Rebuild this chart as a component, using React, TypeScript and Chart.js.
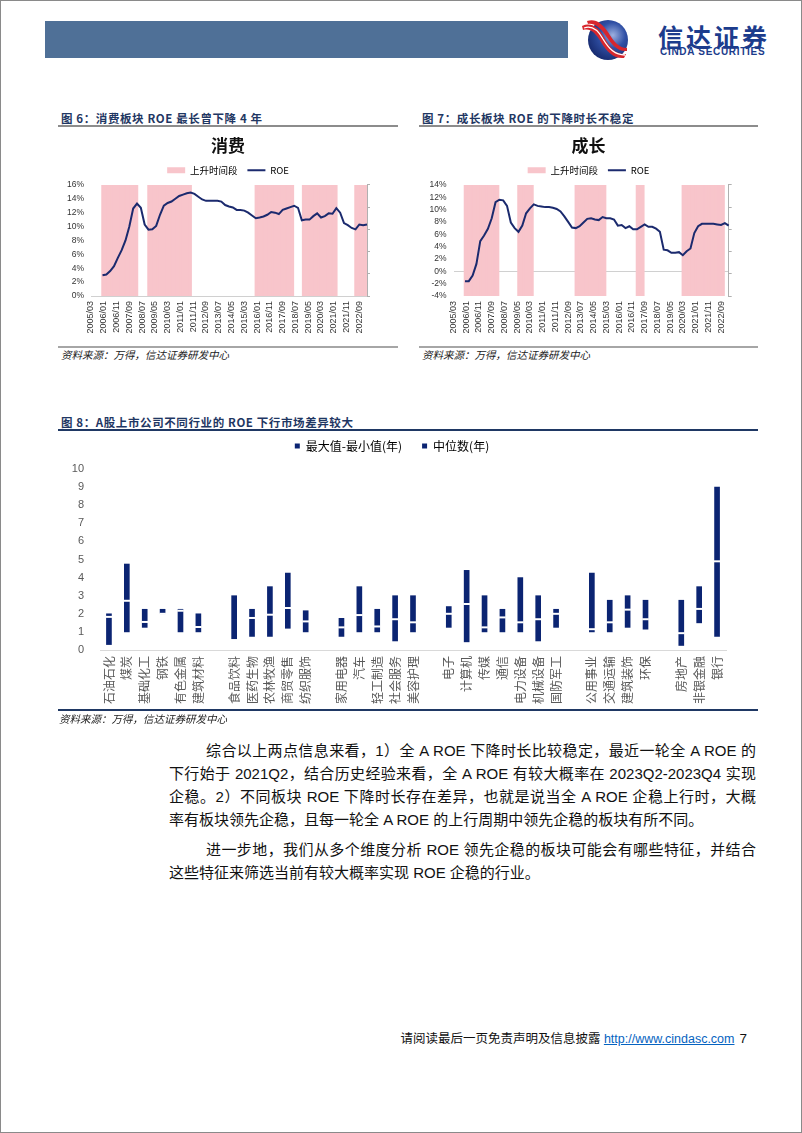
import React, { useEffect, useRef } from "react";
import { Chart, registerables } from "chart.js";
Chart.register(...registerables);

const CJK = '"Noto Sans CJK SC", sans-serif';
const SANS = '"Liberation Sans", Arial, "Noto Sans CJK SC", sans-serif';

const NAVY_LINE = "#1B2A6E";
const PINK = "#F8C5CB";
const BAR_NAVY = "#0B2472";

// monthly category axis 2005/03 ... 2023/03, labelled every 10 months
const X_TICKS = ["2005/03", "2006/01", "2006/11", "2007/09", "2008/07", "2009/05", "2010/03", "2011/01", "2011/11", "2012/09", "2013/07", "2014/05", "2015/03", "2016/01", "2016/11", "2017/09", "2018/07", "2019/05", "2020/03", "2021/01", "2021/11", "2022/09"];
const MONTH_COUNT = 217;
const FIRST_QUARTER = "2005/12";

// 消费 ROE (%), quarterly from 2005/12
const XF_ROE = [3.0, 3.1, 3.6, 4.3, 5.5, 6.6, 8.0, 10.0, 12.6, 13.3, 12.7, 10.3, 9.55, 9.6, 10.1, 11.7, 13.0, 13.4, 13.6, 14.0, 14.4, 14.6, 14.8, 14.9, 14.7, 14.3, 13.9, 13.7, 13.7, 13.7, 13.7, 13.6, 13.1, 12.9, 12.75, 12.4, 12.4, 12.3, 12.0, 11.6, 11.2, 11.3, 11.45, 11.7, 12.1, 12.0, 11.8, 12.4, 12.6, 12.8, 13.0, 12.7, 10.9, 11.0, 11.0, 11.5, 11.9, 11.3, 11.5, 11.9, 11.85, 12.65, 12.0, 10.5, 10.2, 9.8, 9.6, 10.3, 10.2, 10.3];
const XF_RISE = [["2005/12", "2008/03"], ["2008/12", "2011/09"], ["2015/12", "2018/05"], ["2019/01", "2021/03"], ["2022/06", "2023/03"]];

// 成长 ROE (%), quarterly from 2005/12
const CZ_ROE = [-1.6, -1.6, -0.7, 1.2, 4.9, 5.8, 6.9, 8.6, 11.2, 11.6, 11.5, 10.6, 7.9, 7.0, 6.4, 7.4, 9.4, 10.2, 10.85, 10.6, 10.5, 10.4, 10.4, 10.3, 10.1, 9.7, 8.9, 8.0, 7.1, 7.0, 7.3, 7.9, 8.5, 8.6, 8.4, 8.3, 8.8, 8.6, 8.6, 8.4, 7.4, 7.5, 7.0, 7.3, 6.8, 6.8, 7.2, 7.6, 7.2, 7.2, 6.9, 6.4, 3.5, 3.4, 3.0, 3.0, 3.1, 2.6, 3.25, 3.7, 6.2, 7.3, 7.7, 7.7, 7.7, 7.7, 7.6, 7.5, 7.8, 7.4];
const CZ_RISE = [["2005/12", "2008/02"], ["2009/06", "2010/05"], ["2013/03", "2015/02"], ["2017/03", "2017/08"], ["2020/03", "2022/11"]];

// 图8
const INDUSTRIES = ["石油石化", "煤炭", "基础化工", "钢铁", "有色金属", "建筑材料", "", "食品饮料", "医药生物", "农林牧渔", "商贸零售", "纺织服饰", "", "家用电器", "汽车", "轻工制造", "社会服务", "美容护理", "", "电子", "计算机", "传媒", "通信", "电力设备", "机械设备", "国防军工", "", "公用事业", "交通运输", "建筑装饰", "环保", "", "房地产", "非银金融", "银行"];
const RANGE_MAX = [2.0, 4.75, 2.25, 2.25, 2.25, 2.0, null, 3.0, 2.25, 3.5, 4.25, 2.17, null, 1.75, 3.5, 2.25, 3.0, 3.0, null, 2.4, 4.4, 3.0, 2.25, 4.0, 3.0, 2.25, null, 4.25, 2.75, 3.0, 2.75, null, 2.75, 3.5, 9.0];
const RANGE_MIN = [0.3, 1.0, 1.25, 2.0, 1.0, 1.0, null, 0.55, 0.75, 0.75, 1.2, 1.0, null, 0.75, 1.0, 1.0, 0.5, 1.0, null, 1.25, 0.45, 1.0, 1.0, 1.0, 0.5, 1.25, null, 1.0, 1.0, 1.25, 1.15, null, 0.25, 1.5, 0.75];
const MEDIAN = [1.83, 2.72, 1.55, 2.0, 2.17, 1.27, null, 0.55, 1.77, 1.95, 2.32, 1.58, null, 1.25, 1.93, 1.3, 1.7, 1.53, null, 2.0, 2.54, 1.25, 1.8, 1.53, 1.7, 2.0, null, 1.15, 1.53, 2.23, 1.7, null, 0.93, 2.27, 4.9];
const Y8_TICKS = { min: 0, max: 10, step: 1 };

function monthIndex(label: string) {
  const [y, m] = label.split("/").map(Number);
  return (y - 2005) * 12 + (m - 3);
}

function legendExtra(extra: number) {
  return {
    id: "legendExtra",
    afterInit(chart: any) {
      const l = chart.legend;
      if (!l || l.__patched) return;
      const orig = l.fit;
      l.fit = function () {
        orig.call(this);
        this.height += extra;
      };
      l.__patched = true;
    },
  };
}

function roeConfig(title: string, values: number[], bands: string[][], yMin: number, yMax: number, leftW: number, rightW: number): any {
  const labels = Array.from({ length: MONTH_COUNT }, (_, i) => (i % 10 === 0 ? X_TICKS[i / 10] : ""));
  const line: (number | null)[] = Array(MONTH_COUNT).fill(null);
  const q0 = monthIndex(FIRST_QUARTER);
  values.forEach((v, k) => {
    line[q0 + 3 * k] = v;
  });
  const band: (number | null)[] = Array(MONTH_COUNT).fill(null);
  bands.forEach(([a, b]) => {
    for (let i = monthIndex(a); i <= monthIndex(b); i++) band[i] = 1;
  });
  return {
    type: "bar",
    data: {
      labels,
      datasets: [
        { type: "line", label: "ROE", data: line, yAxisID: "y", borderColor: NAVY_LINE, borderWidth: 2, pointRadius: 0, spanGaps: true, order: 0, tension: 0 },
        { type: "bar", label: "上升时间段", data: band, yAxisID: "y2", backgroundColor: PINK, borderWidth: 0, inflateAmount: 0.6, barPercentage: 1, categoryPercentage: 1, order: 1 },
      ],
    },
    options: {
      animation: false,
      responsive: false,
      layout: { padding: 0 },
      plugins: {
        title: { display: true, text: title, color: "#111", font: { family: CJK, size: 17, weight: "bold" }, padding: { top: 6, bottom: 0 } },
        legend: {
          labels: {
            usePointStyle: true,
            pointStyleWidth: 18,
            boxHeight: 6,
            padding: 10,
            color: "#404040",
            font: { family: CJK, size: 9.5 },
            generateLabels: () => [
              { text: "上升时间段", fillStyle: PINK, strokeStyle: PINK, lineWidth: 0, pointStyle: "rect", hidden: false },
              { text: "ROE", fillStyle: NAVY_LINE, strokeStyle: NAVY_LINE, lineWidth: 2, pointStyle: "line", hidden: false },
            ],
          },
        },
        tooltip: { enabled: false },
      },
      scales: {
        x: {
          type: "category",
          offset: false,
          grid: { display: false, drawTicks: false },
          border: { display: false },
          ticks: { autoSkip: false, minRotation: 90, maxRotation: 90, padding: 5, color: "#333", font: { family: SANS, size: 9 } },
          afterFit: (s: any) => {
            s.height = 40;
          },
        },
        y: {
          position: "left",
          min: yMin,
          max: yMax,
          ticks: { autoSkip: false, stepSize: 2, padding: 7, color: "#333", font: { family: SANS, size: 8.5 }, callback: (v: any) => v + "%" },
          grid: { drawTicks: false, color: (c: any) => (c.tick && c.tick.value === 0 ? "#D0D0D0" : "rgba(0,0,0,0)") },
          border: { display: false },
          afterFit: (s: any) => {
            s.width = leftW;
          },
        },
        y2: {
          position: "right",
          min: 0,
          max: 1,
          ticks: { display: false, stepSize: 0.2, autoSkip: false },
          grid: { drawOnChartArea: false, drawTicks: true, tickLength: 3, color: "#B0B0B0" },
          border: { display: true, color: "#B0B0B0" },
          afterFit: (s: any) => {
            s.width = rightW;
          },
        },
      },
    },
  };
}

function fig8Config(): any {
  return {
    type: "bar",
    data: {
      labels: INDUSTRIES,
      datasets: [
        {
          label: "最大值-最小值(年)",
          data: INDUSTRIES.map((_, i) => (RANGE_MAX[i] == null ? null : [RANGE_MIN[i], RANGE_MAX[i]])),
          backgroundColor: BAR_NAVY,
          barThickness: 5,
          order: 1,
        },
        {
          type: "line",
          label: "中位数(年)",
          data: MEDIAN,
          showLine: false,
          pointStyle: "line",
          pointRadius: 3.3,
          pointBorderColor: "#fff",
          pointBackgroundColor: "#fff",
          pointBorderWidth: 2,
          order: 0,
        },
      ],
    },
    options: {
      animation: false,
      responsive: false,
      layout: { padding: { right: 32 } },
      plugins: {
        legend: {
          labels: {
            usePointStyle: true,
            boxWidth: 5,
            boxHeight: 5,
            padding: 20,
            color: "#595959",
            font: { family: CJK, size: 12 },
            generateLabels: () => [
              { text: "最大值-最小值(年)", fillStyle: BAR_NAVY, strokeStyle: BAR_NAVY, lineWidth: 0, pointStyle: "rect", hidden: false },
              { text: "中位数(年)", fillStyle: BAR_NAVY, strokeStyle: BAR_NAVY, lineWidth: 0, pointStyle: "rect", hidden: false },
            ],
          },
        },
        tooltip: { enabled: false },
      },
      scales: {
        x: {
          grid: { display: false, drawTicks: false },
          border: { display: true, color: "#D9D9D9" },
          ticks: { autoSkip: false, minRotation: 90, maxRotation: 90, padding: 6, color: "#595959", font: { family: CJK, size: 12 } },
          afterFit: (s: any) => {
            s.height = 60;
          },
        },
        y: {
          min: Y8_TICKS.min,
          max: Y8_TICKS.max,
          ticks: { autoSkip: false, stepSize: Y8_TICKS.step, padding: 16, color: "#595959", font: { family: SANS, size: 11 } },
          grid: { display: false, drawTicks: false },
          border: { display: false },
          afterFit: (s: any) => {
            s.width = 42;
          },
        },
      },
    },
    plugins: [legendExtra(7)],
  };
}

function ChartBox({ make, left, top, width, height }: any) {
  const ref = useRef<HTMLCanvasElement>(null);
  useEffect(() => {
    const c = new Chart(ref.current as HTMLCanvasElement, make());
    return () => c.destroy();
  }, []);
  return <canvas ref={ref} width={width} height={height} style={{ position: "absolute", left, top, width, height }} />;
}

const abs = (s: any) => ({ position: "absolute" as const, ...s });

const FigTitle = ({ x, y, w, text, lineColor }: any) => (
  <>
    <div style={abs({ left: x + 3, top: y - 8, fontFamily: CJK, fontWeight: 700, fontSize: 11.5, letterSpacing: 0.6, color: "#1F3763", whiteSpace: "nowrap", lineHeight: "16px" })}>{text}</div>
    <div style={abs({ left: x, top: y + 7, width: w, height: 2, background: lineColor })} />
  </>
);

const Source = ({ x, y }: any) => (
  <div style={abs({ left: x, top: y - 7, fontFamily: CJK, fontStyle: "italic", fontSize: 10.5, color: "#222", whiteSpace: "nowrap", lineHeight: "14px" })}>资料来源：万得，信达证券研发中心</div>
);

const P_LINES = [
  { x: 205, y: 750, t: "综合以上两点信息来看，1）全 A ROE 下降时长比较稳定，最近一轮全 A ROE 的", j: true },
  { x: 168, y: 773, t: "下行始于 2021Q2，结合历史经验来看，全 A ROE 有较大概率在 2023Q2-2023Q4 实现", j: true },
  { x: 168, y: 796, t: "企稳。2）不同板块 ROE 下降时长存在差异，也就是说当全 A ROE 企稳上行时，大概", j: true },
  { x: 168, y: 819, t: "率有板块领先企稳，且每一轮全 A ROE 的上行周期中领先企稳的板块有所不同。", j: false },
  { x: 205, y: 849, t: "进一步地，我们从多个维度分析 ROE 领先企稳的板块可能会有哪些特征，并结合", j: true },
  { x: 168, y: 872, t: "这些特征来筛选当前有较大概率实现 ROE 企稳的行业。", j: false },
];

export default function App() {
  return (
    <div lang="zh-CN" style={{ position: "absolute", left: 0, top: 0, width: 802, height: 1133, background: "#fff", overflow: "hidden", boxSizing: "border-box", border: "1px solid #8a8a8a" }}>
      {/* header */}
      <div style={abs({ left: 44, top: 20, width: 523, height: 37, background: "#4F7097" })} />
      <svg width="48" height="46" viewBox="0 0 48 46" style={abs({ left: 580, top: 16 })}>
        <defs>
          <radialGradient id="lg" cx="62%" cy="38%" r="70%">
            <stop offset="0" stopColor="#9DB0E0" />
            <stop offset="0.45" stopColor="#3050A5" />
            <stop offset="1" stopColor="#15286B" />
          </radialGradient>
        </defs>
        <circle cx="27" cy="23" r="20" fill="url(#lg)" />
        <path d="M1 9 C 10 5, 17 10, 23 20 C 29 31, 35 38, 45 37 L 43 41 C 33 42, 26 35, 20 25 C 14 15, 9 11, 2 13 Z" fill="#D7262D" />
        <path d="M6 4 C 14 1, 21 6, 27 15 C 33 25, 38 31, 46 31 L 46 34 C 37 35, 31 28, 25 19 C 19 10, 13 6, 7 7 Z" fill="#D7262D" />
        <path d="M3 11 C 11 8, 17 13, 22 22 C 28 32, 34 38, 44 38" stroke="#fff" strokeWidth="1.3" fill="none" />
      </svg>
      <div style={abs({ left: 657, top: 20, fontFamily: CJK, fontWeight: 700, fontSize: 25, letterSpacing: 3, color: "#1C3C8C", lineHeight: "30px", whiteSpace: "nowrap" })}>信达证券</div>
      <div style={abs({ left: 659, top: 45, fontFamily: SANS, fontWeight: 700, fontSize: 10, letterSpacing: 0.7, color: "#1C3C8C", lineHeight: "12px", whiteSpace: "nowrap" })}>CINDA SECURITIES</div>

      {/* fig 6 & 7 */}
      <FigTitle x={57} y={117} w={340} text="图 6：消费板块 ROE 最长曾下降 4 年" lineColor="#8C8C8C" />
      <FigTitle x={418} y={117} w={339} text="图 7：成长板块 ROE 的下降时长不稳定" lineColor="#8C8C8C" />
      <ChartBox make={() => roeConfig("消费", XF_ROE, XF_RISE, 0, 16, 33, 31)} left={57} top={128} width={340} height={207} />
      <ChartBox make={() => roeConfig("成长", CZ_ROE, CZ_RISE, -4, 14, 34.5, 29.3)} left={418} top={128} width={339} height={207} />
      <div style={abs({ left: 57, top: 345, width: 340, height: 1.5, background: "#A6A6A6" })} />
      <div style={abs({ left: 418, top: 345, width: 339, height: 1.5, background: "#A6A6A6" })} />
      <Source x={60} y={354} />
      <Source x={421} y={354} />

      {/* fig 8 */}
      <FigTitle x={57} y={421} w={700} text="图 8：A股上市公司不同行业的 ROE 下行市场差异较大" lineColor="#1F3864" />
      <ChartBox make={fig8Config} left={57} top={419} width={700} height={290} />
      <div style={abs({ left: 57, top: 708, width: 700, height: 2, background: "#1F3864" })} />
      <Source x={58} y={718} />

      {/* body text */}
      {P_LINES.map((l, i) => (
        <div
          key={i}
          style={abs({
            left: l.x,
            top: l.y - 11,
            width: 755 - l.x,
            fontFamily: SANS,
            fontSize: 15,
            lineHeight: "22px",
            color: "#111",
            whiteSpace: "nowrap",
            textAlign: l.j ? "justify" : "left",
            textAlignLast: l.j ? "justify" : "left",
          })}
        >
          {l.t}
        </div>
      ))}

      {/* footer */}
      <div style={abs({ left: 380, top: 1030, width: 366, textAlign: "right", fontFamily: SANS, fontSize: 12.5, color: "#111", whiteSpace: "nowrap", lineHeight: "16px" })}>
        请阅读最后一页免责声明及信息披露 <span style={{ color: "#0563C1", textDecoration: "underline" }}>http://www.cindasc.com</span>
        <span style={{ fontSize: 13.5, marginLeft: 5 }}>7</span>
      </div>
    </div>
  );
}
